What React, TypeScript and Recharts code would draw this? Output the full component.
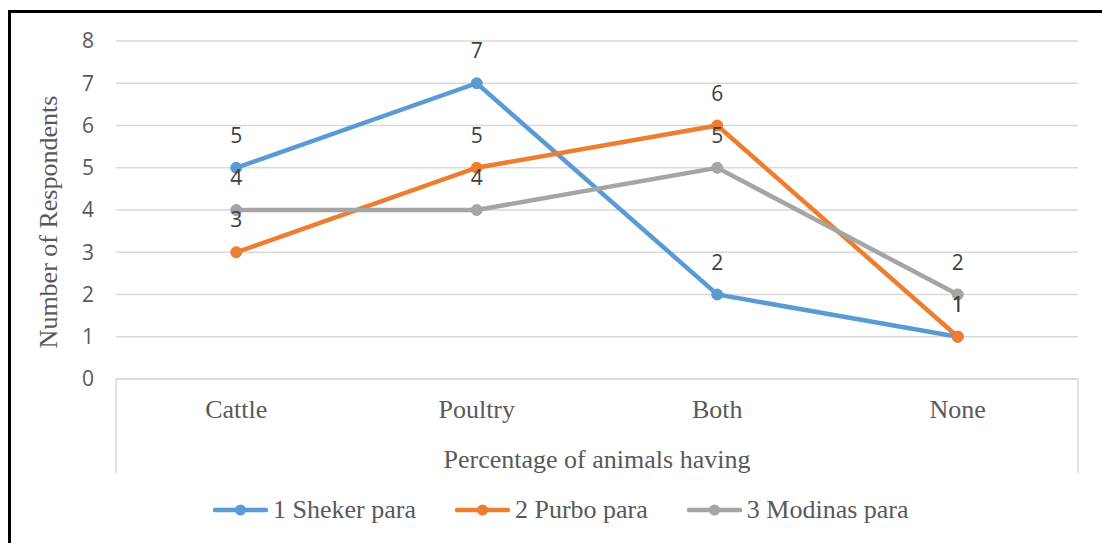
import {
  LineChart,
  Line,
  XAxis,
  YAxis,
  CartesianGrid,
  Legend,
  LabelList,
} from "recharts";

const categories = ["Cattle", "Poultry", "Both", "None"];
const shekerPara = [5, 7, 2, 1];
const purboPara = [3, 5, 6, 1];
const modinasPara = [4, 4, 5, 2];
const yTicks = [0, 1, 2, 3, 4, 5, 6, 7, 8];

const data = categories.map((name, i) => ({
  name,
  sheker: shekerPara[i],
  purbo: purboPara[i],
  modinas: modinasPara[i],
}));

const W = 1102;
const H = 543;
const margin = { top: 41, right: 24, left: 10, bottom: 13 };
const yAxisWidth = 106;
const xAxisHeight = 111;
const legendHeight = 40;
const plotLeft = margin.left + yAxisWidth;
const plotRight = W - margin.right;
const plotBottom = H - margin.bottom - legendHeight - xAxisHeight;
const bandHalf = (plotRight - plotLeft) / categories.length / 2;

const series = [
  { key: "sheker", name: "1 Sheker para", color: "#5B9BD5" },
  { key: "purbo", name: "2 Purbo para", color: "#ED7D31" },
  { key: "modinas", name: "3 Modinas para", color: "#A5A5A5" },
];

const serif = "'Liberation Serif', 'Times New Roman', serif";
const sans = "'Open Sans', 'Noto Sans', sans-serif";

function LegendContent() {
  return (
    <div
      style={{
        display: "flex",
        alignItems: "center",
        height: legendHeight,
        paddingLeft: 203,
        fontFamily: serif,
        fontSize: 26,
        color: "#595959",
      }}
    >
      {series.map((s) => (
        <div
          key={s.key}
          style={{ display: "flex", alignItems: "center", marginRight: 39 }}
        >
          <svg width={55} height={14} style={{ marginRight: 5 }}>
            <line
              x1={2}
              y1={7}
              x2={53}
              y2={7}
              stroke={s.color}
              strokeWidth={4.5}
              strokeLinecap="round"
            />
            <circle cx={27.5} cy={7} r={5.5} fill={s.color} />
          </svg>
          <span>{s.name}</span>
        </div>
      ))}
    </div>
  );
}

function YTitle(props: any) {
  const vb = props.viewBox;
  const x = vb.x + 38;
  const y = vb.y + vb.height / 2 + 12;
  return (
    <text
      x={x}
      y={y}
      transform={`rotate(-90, ${x}, ${y})`}
      textAnchor="middle"
      dominantBaseline="central"
      fontFamily={serif}
      fontSize={26}
      fill="#595959"
    >
      Number of Respondents
    </text>
  );
}

export default function App() {
  return (
    <div
      style={{
        position: "absolute",
        left: 0,
        top: 0,
        width: W,
        height: H,
        background: "#fff",
      }}
    >
      <LineChart width={W} height={H} data={data} margin={margin}>
        <CartesianGrid
          vertical={false}
          stroke="#D9D9D9"
          strokeWidth={1.5}
        />
        <XAxis
          dataKey="name"
          height={xAxisHeight}
          padding={{ left: bandHalf, right: bandHalf }}
          axisLine={{ stroke: "#D9D9D9", strokeWidth: 1.5 }}
          tickLine={false}
          tickSize={0}
          tickMargin={21}
          tick={{ fontFamily: serif, fontSize: 26, fill: "#595959" }}
          label={{
            value: "Percentage of animals having",
            position: "insideBottom",
            offset: 22,
            fontFamily: serif,
            fontSize: 26,
            fill: "#595959",
          }}
        />
        <YAxis
          width={yAxisWidth}
          domain={[0, 8]}
          ticks={yTicks}
          interval={0}
          axisLine={false}
          tickLine={false}
          tickSize={0}
          tickMargin={22}
          tick={{ fontFamily: sans, fontSize: 21, fill: "#595959" }}
          label={<YTitle />}
        />
        <Legend
          verticalAlign="bottom"
          height={legendHeight}
          content={() => <LegendContent />}
        />
        {series.map((s) => (
          <Line
            key={s.key}
            type="linear"
            dataKey={s.key}
            name={s.name}
            stroke={s.color}
            strokeWidth={4.5}
            dot={{ r: 5.5, fill: s.color, stroke: s.color, strokeWidth: 1 }}
            activeDot={false}
            isAnimationActive={false}
          >
            <LabelList
              dataKey={s.key}
              position="top"
              offset={25}
              fontFamily={sans}
              fontSize={21}
              fill="#404040"
            />
          </Line>
        ))}
      </LineChart>
      <svg
        width={W}
        height={H}
        style={{ position: "absolute", left: 0, top: 0, pointerEvents: "none" }}
      >
        <line
          x1={plotLeft}
          y1={plotBottom}
          x2={plotLeft}
          y2={473}
          stroke="#D9D9D9"
          strokeWidth={1.5}
        />
        <line
          x1={plotRight}
          y1={plotBottom}
          x2={plotRight}
          y2={473}
          stroke="#D9D9D9"
          strokeWidth={1.5}
        />
        <line x1={8} y1={11.5} x2={W} y2={11.5} stroke="#000" strokeWidth={3} />
        <line x1={9.5} y1={10} x2={9.5} y2={H} stroke="#000" strokeWidth={3} />
      </svg>
    </div>
  );
}
